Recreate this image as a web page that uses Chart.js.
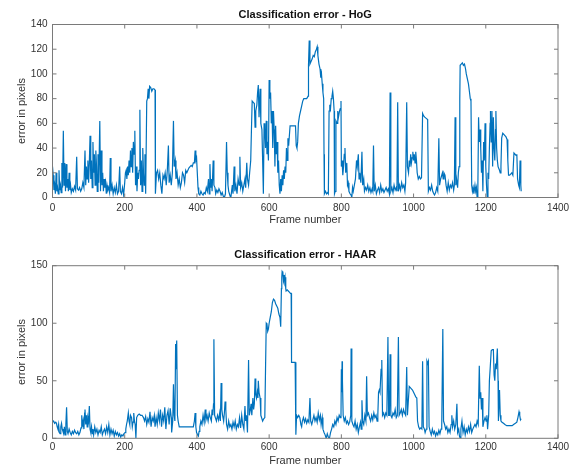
<!DOCTYPE html>
<html>
<head>
<meta charset="utf-8">
<script src="https://cdn.jsdelivr.net/npm/chart.js@4.4.1/dist/chart.umd.min.js"></script>
<style>
  html, body { margin: 0; padding: 0; background: #fff; }
  #wrap { position: relative; width: 577px; height: 469px; overflow: hidden; }
  .box { position: absolute; left: 0; width: 577px; }
</style>
</head>
<body>
<div id="wrap">
  <div class="box" style="top:0;height:240px;"><canvas id="c1" width="577" height="240"></canvas></div>
  <div class="box" style="top:240px;height:229px;"><canvas id="c2" width="577" height="229"></canvas></div>
</div>
<script>
// ---------- DATA ----------
const titles = ["Classification error - HoG", "Classification error - HAAR"];
const xAxisLabel = "Frame number";
const yAxisLabel = "error in pixels";
const xTicks = [0, 200, 400, 600, 800, 1000, 1200, 1400];
const yTicksHog = [0, 20, 40, 60, 80, 100, 120, 140];
const yTicksHaar = [0, 50, 100, 150];

const hogFrames = [0,2,4,6,8,10,12,14,16,18,20,22,24,26,28,30,32,34,36,38,40,42,44,46,48,50,52,55,58,61,64,67,69,72,75,78,81,84,87,90,92,94,96,98,100,102,104,106,108,110,112,114,116,118,120,122,124,126,128,131,133,135,137,139,141,143,145,147,149,151,153,155,158,160,162,165,168,171,174,177,180,183,186,188,191,194,197,200,202,204,206,208,210,212,214,216,218,220,222,224,226,228,230,232,234,236,238,240,242,244,246,248,250,252,254,256,258,261,263,265,267,269,272,275,278,281,284,285,288,291,294,297,300,303,306,309,312,315,318,321,323,326,329,332,335,337,340,342,345,348,351,354,357,360,363,366,369,372,375,378,381,384,387,390,393,395,397,399,401,403,405,408,411,414,417,420,423,426,429,432,434,436,438,440,442,445,447,450,452,455,458,461,464,467,470,473,476,479,482,484,486,488,490,492,494,496,498,500,503,505,508,511,514,517,519,521,524,527,530,533,535,538,540,543,546,549,551,553,556,559,561,563,566,568,570,572,575,577,580,582,584,586,588,590,592,594,596,598,600,602,604,606,608,610,612,614,616,618,620,622,624,626,628,630,632,634,636,638,640,642,644,646,648,650,652,654,656,658,662,666,670,673,675,677,679,681,684,687,690,693,696,700,704,708,709,711,713,716,719,722,725,728,731,733,735,738,741,743,745,747,749,751,752,753,756,759,762,764,766,768,770,772,774,776,778,780,781,783,785,788,790,792,795,797,799,800,802,804,806,808,810,812,815,817,819,821,824,827,829,831,833,836,839,842,844,847,849,851,854,857,859,862,864,867,870,873,876,879,882,885,887,889,891,894,897,900,903,906,909,912,915,918,921,924,927,930,933,935,937,940,943,946,949,952,954,956,958,961,964,967,970,973,976,978,981,983,986,988,990,992,994,996,998,1000,1002,1004,1006,1008,1010,1013,1016,1019,1022,1025,1028,1031,1035,1039,1041,1044,1047,1050,1053,1056,1058,1061,1064,1067,1070,1072,1075,1078,1080,1082,1084,1087,1090,1093,1096,1099,1102,1105,1108,1111,1113,1115,1117,1119,1122,1124,1126,1128,1129,1132,1135,1138,1141,1144,1146,1149,1152,1155,1157,1159,1161,1163,1165,1167,1170,1172,1174,1176,1178,1180,1182,1184,1186,1188,1190,1192,1194,1196,1198,1200,1202,1204,1206,1208,1210,1212,1213,1215,1217,1219,1221,1223,1225,1227,1228,1230,1232,1234,1236,1238,1240,1242,1244,1247,1250,1253,1256,1259,1261,1263,1266,1269,1272,1275,1278,1281,1284,1286,1288,1291,1293,1295,1297,1298];
const hogErrors = [25,18,6,10,3,20,5,8,3,22,6,10,4,28,8,54,10,28,5,27,8,15,5,20,6,10,4,7,5,9,6,33,7,6,8,5,7,12,8,38,10,25,15,30,12,28,50,15,30,8,45,20,35,10,38,25,5,35,12,62,5,38,10,20,5,15,8,12,3,10,6,8,4,32,5,10,3,8,4,10,3,5,25,5,3,8,2,12,20,22,15,25,18,30,20,38,25,40,20,45,35,54,10,25,5,20,15,22,71,10,30,5,40,20,10,35,3,78,80,88,80,90,89,86,88,88,87,3,20,22,15,20,10,3,18,15,20,10,22,42,12,18,10,20,62,25,30,15,20,10,15,8,12,20,18,12,22,20,22,24,25,26,25,28,28,38,30,32,20,8,3,2,5,3,2,4,3,8,5,15,3,27,8,15,5,30,10,8,3,6,4,7,5,2,4,1,0,3,45,20,10,5,3,1,0,5,10,3,25,5,10,3,15,10,33,8,12,5,10,15,8,28,15,10,20,30,55,78,77,76,57,70,75,85,91,65,88,60,55,30,3,60,55,40,62,35,45,30,95,80,85,60,70,40,70,55,25,58,35,45,20,30,10,3,15,5,18,10,22,15,25,20,40,30,48,42,50,58,58,58,58,58,42,40,45,60,66,70,74,78,80,80,80,82,107,127,108,110,112,115,114,118,120,122,115,108,104,97,100,92,85,80,35,3,5,3,4,3,70,75,72,80,82,86,80,70,3,5,62,60,70,65,70,72,78,25,30,18,25,35,40,20,28,10,12,5,3,2,0,8,5,10,15,30,25,35,15,20,12,37,10,15,5,8,6,10,5,8,4,7,5,42,5,10,3,6,8,4,10,5,7,4,6,8,5,7,3,85,5,8,4,10,6,8,5,77,5,10,6,12,8,10,5,12,77,25,20,30,25,35,28,32,37,30,35,28,37,30,20,15,17,15,16,68,66,65,64,63,5,8,6,10,5,3,2,4,8,5,48,10,15,18,20,15,20,18,10,5,12,6,10,8,12,6,10,65,10,15,8,20,25,80,107,108,109,107,108,104,100,96,92,85,80,78,10,5,8,3,10,5,8,0,5,65,45,55,40,20,30,5,45,30,60,25,10,0,20,15,40,60,70,45,70,25,65,40,30,55,70,40,30,25,25,22,20,25,48,52,51,50,49,47,30,18,18,19,20,18,36,35,34,35,15,10,8,30,10,5];

const haarFrames = [0,3,6,9,11,13,15,17,19,21,23,25,27,29,31,33,35,37,39,41,43,46,49,52,55,58,61,64,67,70,73,76,79,81,83,85,87,89,90,92,94,96,98,100,102,104,106,108,110,112,114,117,120,123,126,129,132,135,138,141,144,147,150,153,156,159,162,165,168,171,174,177,180,183,186,189,192,195,198,201,203,205,207,210,212,214,216,219,221,223,225,227,229,231,233,236,240,244,248,252,255,258,261,264,267,270,273,276,279,282,284,287,290,293,296,299,302,305,308,311,314,317,320,323,326,329,330,333,335,337,339,341,342,344,346,348,351,355,360,365,370,375,380,385,390,393,395,397,399,402,404,406,408,411,414,417,420,423,425,428,431,434,437,440,442,444,446,447,449,451,454,457,460,463,465,467,469,471,474,476,478,480,482,485,488,491,494,497,500,503,506,509,512,515,518,521,524,527,530,533,535,537,540,543,545,548,550,552,555,557,559,561,563,565,567,569,570,572,575,577,580,582,585,588,590,592,594,596,598,600,603,606,609,612,615,618,621,624,627,630,632,634,635,636,638,640,641,642,643,644,646,647,650,653,656,659,661,662,665,668,672,674,676,679,682,685,688,690,692,695,698,701,704,707,710,713,715,718,721,724,727,730,733,736,739,742,744,747,749,752,755,758,761,764,767,770,773,776,779,782,785,788,791,794,797,799,800,801,802,803,805,808,811,814,817,820,823,826,827,829,832,835,838,841,844,847,850,853,855,857,859,862,865,868,870,872,875,878,881,884,887,890,893,896,899,901,903,905,907,910,912,914,917,920,923,926,929,931,933,935,937,940,943,946,949,952,955,958,960,963,966,969,972,975,978,981,983,985,988,991,994,997,1000,1003,1006,1009,1011,1014,1017,1020,1023,1025,1027,1030,1032,1035,1037,1039,1041,1043,1046,1049,1052,1055,1058,1061,1064,1067,1070,1073,1076,1078,1081,1083,1086,1089,1092,1095,1098,1101,1104,1106,1108,1111,1114,1117,1120,1122,1125,1127,1129,1131,1134,1137,1140,1143,1146,1149,1152,1155,1158,1161,1164,1167,1170,1173,1176,1179,1182,1184,1186,1188,1190,1192,1195,1198,1201,1203,1205,1208,1210,1212,1215,1218,1221,1223,1225,1227,1229,1232,1234,1235,1237,1238,1240,1242,1245,1249,1253,1258,1263,1268,1273,1277,1282,1286,1289,1292,1294,1296,1298];
const haarErrors = [14,15,13,14,13,10,8,12,5,4,10,13,8,6,4,10,3,12,27,6,4,8,5,3,6,4,7,5,4,6,3,5,9,20,10,15,8,22,25,12,20,10,18,15,28,8,5,10,4,8,3,10,5,8,3,7,5,10,3,6,8,4,10,5,12,3,8,4,7,2,6,3,5,2,4,1,3,2,4,5,8,12,15,22,15,12,20,18,10,14,22,15,12,0,18,20,21,20,20,18,15,19,12,17,14,23,10,18,15,20,10,18,12,22,15,25,10,20,15,27,8,20,24,12,26,18,5,15,47,20,15,82,60,85,20,15,10,10,10,10,10,10,10,10,10,15,22,10,5,3,2,6,10,15,12,20,14,25,16,20,15,22,18,15,25,20,30,86,20,18,15,20,16,22,15,48,25,20,15,22,32,25,12,8,15,10,12,8,14,10,15,8,12,10,18,9,20,12,8,28,15,20,5,68,20,25,30,20,35,25,30,52,38,35,40,35,50,40,35,20,17,15,17,18,60,100,99,93,95,100,105,110,118,121,120,117,115,113,108,105,97,130,140,145,144,136,135,142,138,140,130,128,129,128,127,126,126,66,66,66,66,3,20,18,20,18,12,10,15,18,14,17,13,16,14,35,15,12,16,20,15,18,14,22,16,20,12,18,8,5,3,0,4,1,0,5,8,12,10,15,12,18,15,20,18,20,60,40,67,50,20,15,18,13,15,12,14,20,78,15,12,10,15,8,12,5,10,14,8,33,15,12,20,15,54,20,22,18,15,20,16,22,18,20,15,20,40,42,40,60,68,20,22,18,22,20,88,20,20,73,20,18,22,20,25,18,20,88,20,22,25,20,25,22,20,62,20,30,45,44,43,42,40,38,36,35,15,10,8,9,8,67,10,8,5,8,67,65,67,10,6,3,8,4,6,2,5,3,7,4,8,10,95,15,12,8,10,5,8,5,12,20,10,15,8,12,30,5,8,2,0,8,15,5,10,3,8,5,10,6,12,5,8,10,12,10,15,12,63,35,40,25,35,10,15,18,15,20,8,20,50,60,76,77,77,55,50,65,60,78,50,15,35,42,20,15,14,13,12,11,11,11,11,12,13,14,18,23,20,16,17];

// ---------- STYLE ----------
const LINE = '#0072BD';
const AXIS = '#7a7a7a';
const TEXT = '#333333';
const FONT = "'Liberation Sans', Arial, Helvetica, sans-serif";

function toPoints(xs, ys) { return xs.map((x, i) => ({ x: x, y: ys[i] })); }

const boxPlugin = {
  id: 'matlabBox',
  afterDatasetsDraw(chart, args, opts) {
    const { ctx, chartArea: a, scales } = chart;
    ctx.save();
    ctx.strokeStyle = AXIS;
    ctx.lineWidth = 1;
    ctx.strokeRect(a.left, a.top, a.right - a.left, a.bottom - a.top);
    const tl = 4;
    ctx.beginPath();
    scales.x.ticks.forEach(t => {
      const px = scales.x.getPixelForValue(t.value);
      ctx.moveTo(px, a.bottom); ctx.lineTo(px, a.bottom - tl);
      ctx.moveTo(px, a.top); ctx.lineTo(px, a.top + tl);
    });
    scales.y.ticks.forEach(t => {
      const py = scales.y.getPixelForValue(t.value);
      ctx.moveTo(a.left, py); ctx.lineTo(a.left + tl, py);
      ctx.moveTo(a.right, py); ctx.lineTo(a.right - tl, py);
    });
    ctx.stroke();
    ctx.fillStyle = '#111';
    ctx.font = "bold 11px " + FONT;
    ctx.textAlign = 'center';
    ctx.textBaseline = 'middle';
    ctx.fillText(opts.text, (a.left + a.right) / 2, opts.y);
    ctx.restore();
  }
};

function makeChart(id, cfg) {
  return new Chart(document.getElementById(id), {
    type: 'line',
    data: { datasets: [{
      data: toPoints(cfg.xs, cfg.ys),
      borderColor: LINE, borderWidth: 1.2, pointRadius: 0, tension: 0, fill: false
    }] },
    plugins: [boxPlugin],
    options: {
      responsive: false, animation: false, devicePixelRatio: 1,
      events: [],
      layout: { padding: { left: 0, right: 19, top: cfg.top, bottom: 0 } },
      plugins: { legend: { display: false }, tooltip: { enabled: false },
                 matlabBox: { text: cfg.title, y: cfg.titleY } },
      scales: {
        x: {
          type: 'linear', min: 0, max: 1400,
          afterBuildTicks: s => { s.ticks = xTicks.map(v => ({ value: v })); },
          grid: { display: false, drawTicks: false },
          border: { display: false },
          ticks: { color: TEXT, font: { family: FONT, size: 10 }, padding: cfg.xTickPad, maxRotation: 0,
                   callback: v => String(v) },
          title: { display: true, text: xAxisLabel, color: TEXT, font: { family: FONT, size: 11 },
                   padding: { top: 0, bottom: cfg.xTitlePad } },
          afterFit: s => { s.height = cfg.xH; }
        },
        y: {
          type: 'linear', min: 0, max: cfg.yMax,
          afterBuildTicks: s => { s.ticks = cfg.yTicks.map(v => ({ value: v })); },
          grid: { display: false, drawTicks: false },
          border: { display: false },
          ticks: { color: TEXT, font: { family: FONT, size: 10 }, padding: 5, callback: v => String(v) },
          title: { display: true, text: yAxisLabel, color: TEXT, font: { family: FONT, size: 11 },
                   padding: { top: 15, bottom: 0 } },
          afterFit: s => { s.width = 52.5; }
        }
      }
    }
  });
}

makeChart('c1', { xs: hogFrames, ys: hogErrors, title: titles[0], titleY: 15,
  top: 24.5, xH: 42.5, yMax: 140, yTicks: yTicksHog, xTickPad: 5, xTitlePad: 13 });
makeChart('c2', { xs: haarFrames, ys: haarErrors, title: titles[1], titleY: 15,
  top: 25.7, xH: 30.7, yMax: 150, yTicks: yTicksHaar, xTickPad: 3, xTitlePad: 1 });
</script>
</body>
</html>
